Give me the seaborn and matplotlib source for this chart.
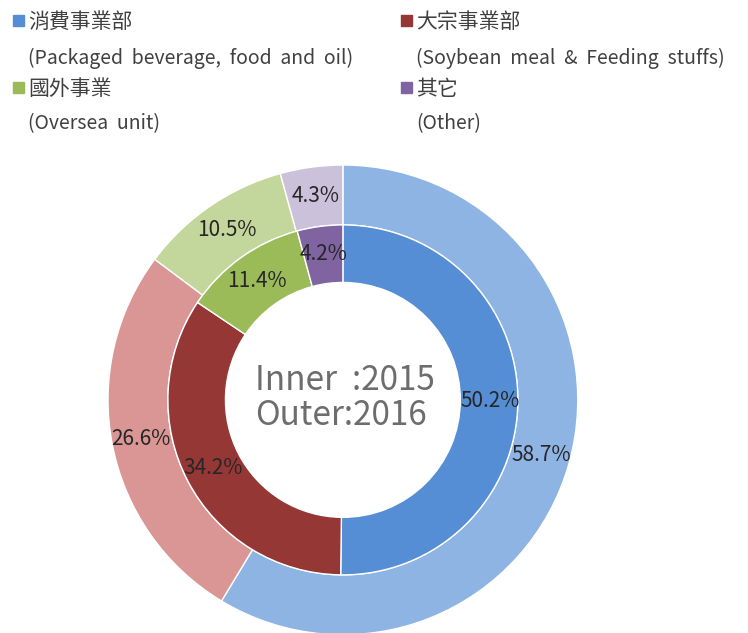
import numpy as np
import matplotlib
matplotlib.use('Agg')
import matplotlib.pyplot as plt
import seaborn as sns
from matplotlib.patches import Rectangle

# data
segments_zh = ['消費事業部', '大宗事業部', '國外事業', '其它']
segments_en = ['(Packaged  beverage,  food  and  oil)', '(Soybean  meal  &  Feeding  stuffs)',
               '(Oversea  unit)', '(Other)']
share_2015 = [50.2, 34.2, 11.4, 4.2]
share_2016 = [58.7, 26.6, 10.5, 4.3]
inner_colors = ['#558ED5', '#953735', '#9BBB59', '#8064A2']
outer_colors = ['#8EB4E3', '#D99694', '#C3D69B', '#CCC1DA']

sns.set_theme(style='white')
plt.rcParams['font.family'] = ['Noto Sans CJK TC', 'DejaVu Sans']

fig = plt.figure(figsize=(7.48, 6.33), dpi=100)
ax = fig.add_axes([0.1444, -0.003, 0.628, 0.7425])
ax.set_aspect('equal')
ax.axis('off')


def ring(values, colors, radius, width, label_r):
    wedges, _ = ax.pie(values, colors=colors, radius=radius, startangle=90,
                       counterclock=False,
                       wedgeprops=dict(width=width, edgecolor='white', linewidth=1))
    for w, v in zip(wedges, values):
        mid = np.deg2rad((w.theta1 + w.theta2) / 2)
        ax.text(label_r * np.cos(mid), label_r * np.sin(mid), f'{v}%',
                ha='center', va='center', fontsize=15, color='#262626')


ring(share_2016, outer_colors, 1.0, 0.255, 0.875)
ring(share_2015, inner_colors, 0.745, 0.245, 0.625)
ax.set_xlim(-1, 1)
ax.set_ylim(-1, 1)

ax.text(0.01, 0.01, 'Inner  :2015\nOuter:2016', ha='center', va='center',
        multialignment='left', fontsize=24, color='#6d6d6d', linespacing=1.0)

# legend, two columns at the top
W, H = 748, 633
pos = [(13, 22, 58), (401, 22, 58), (13, 89, 124), (401, 89, 124)]
for (x, y_zh, y_en), zh, en, c in zip(pos, segments_zh, segments_en, inner_colors):
    fig.patches.append(Rectangle((x / W, 1 - (y_zh + 4) / H), 11 / W, 11 / H,
                                 transform=fig.transFigure, color=c))
    fig.text((x + 15) / W, 1 - y_zh / H, zh, fontsize=15, color='#404040', va='center')
    fig.text((x + 15) / W, 1 - y_en / H, en, fontsize=14, color='#404040', va='center')

fig.savefig('out.png', dpi=100, facecolor='white')
